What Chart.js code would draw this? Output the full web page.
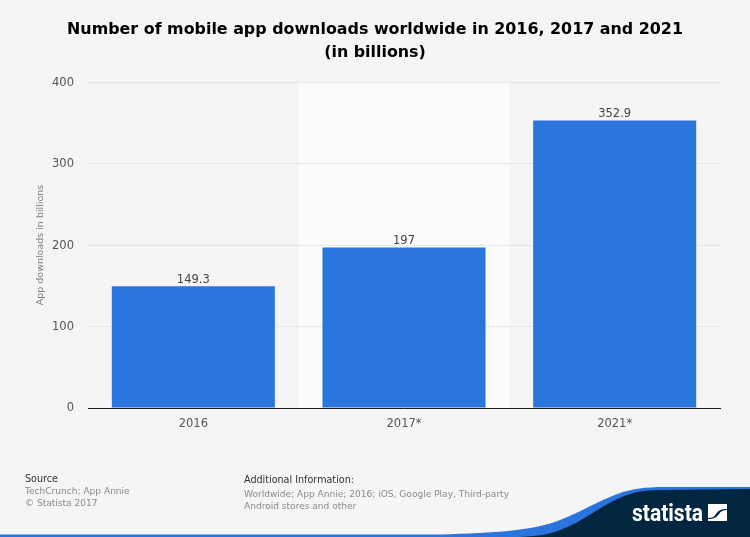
<!DOCTYPE html>
<html>
<head>
<meta charset="utf-8">
<script src="https://cdn.jsdelivr.net/npm/chart.js@4"></script>
<style>
  html, body { margin: 0; padding: 0; background: #f5f5f5; }
  body { width: 750px; height: 537px; position: relative; overflow: hidden; font-family: "DejaVu Sans", sans-serif; }
  #chart { position: absolute; left: 0; top: 0; }
  .note { position: absolute; font-size: 9.05px; line-height: 12px; color: #8a8a8a; }
  .note b { display: block; font-weight: normal; font-size: 9.6px; color: #333; }
  #brand { position: absolute; left: 0; top: 0; }
</style>
</head>
<body>
<canvas id="chart" width="750" height="537"></canvas>
<svg id="brand" width="750" height="537">
  <path d="M0 537 L0 534.5 L440 534.5 C500 533 535 530 560 520 C585 510 600 500 620 493 C632 489 645 487 665 487 L750 487 L750 537 Z" fill="#2a75dd"/>
  <path d="M520 537 C540 536 550 534 560 530 C585 521 600 505 627 495 C637 491 648 490 665 490 L750 489 L750 537 Z" fill="#02263f"/>
  <text x="632" y="521" font-family="Roboto, sans-serif" font-weight="700" font-size="24" fill="#fff" textLength="71" lengthAdjust="spacingAndGlyphs">statista</text>
  <path d="M708 504 H727 V509 C720 509 718 511 716 514 C714 517 712 518 708 518 Z M727 521 H708 V519 C714 519 717 517 719 514 C721 511 723 510 727 510 Z" fill="#fff"/>
</svg>
<div class="note" style="left:25px;top:473px"><b>Source</b>TechCrunch; App Annie<br>© Statista 2017</div>
<div class="note" style="left:244px;top:474px"><b style="margin-bottom:2px">Additional Information:</b>Worldwide; App Annie; 2016; iOS, Google Play, Third-party<br>Android stores and other</div>
<script>
const categories = ['2016', '2017*', '2021*'];
const downloads = [149.3, 197, 352.9];
const valueLabels = ['149.3', '197', '352.9'];
const yTicks = [0, 100, 200, 300, 400];
const titleLines = ['Number of mobile app downloads worldwide in 2016, 2017 and 2021', '(in billions)'];
const yAxisTitle = 'App downloads in billions';
const highlightIndex = 1;

// lighter column behind the 2017 bar
const bandPlugin = {
  id: 'band',
  beforeDraw(chart) {
    const { ctx, scales: { x }, chartArea } = chart;
    const half = (x.getPixelForTick(1) - x.getPixelForTick(0)) / 2;
    const cx = x.getPixelForTick(highlightIndex);
    ctx.save();
    ctx.fillStyle = '#fbfbfb';
    ctx.fillRect(cx - half, chartArea.top, half * 2, chartArea.bottom - chartArea.top);
    ctx.restore();
  }
};

// the plot has a right margin, so the built in title would sit off centre
const pageTitlePlugin = {
  id: 'pageTitle',
  afterDraw(chart) {
    const { ctx, width } = chart;
    ctx.save();
    ctx.font = 'bold 15.9px "DejaVu Sans"';
    ctx.fillStyle = '#000';
    ctx.textAlign = 'center';
    titleLines.forEach((line, i) => ctx.fillText(line, width / 2, 34 + i * 23));
    ctx.restore();
  }
};

const valueLabelPlugin = {
  id: 'valueLabels',
  afterDatasetsDraw(chart) {
    const { ctx } = chart;
    ctx.save();
    ctx.font = '11.5px "DejaVu Sans"';
    ctx.fillStyle = '#444';
    ctx.textAlign = 'center';
    ctx.textBaseline = 'alphabetic';
    chart.getDatasetMeta(0).data.forEach((bar, i) => {
      ctx.fillText(valueLabels[i], bar.x, bar.y - 3);
    });
    ctx.restore();
  }
};

// y labels sit a pixel lower than the library puts them
const yLabelPlugin = {
  id: 'yLabels',
  afterDraw(chart) {
    const { ctx, scales: { y } } = chart;
    ctx.save();
    ctx.font = '11.5px "DejaVu Sans"';
    ctx.fillStyle = '#555';
    ctx.textAlign = 'right';
    ctx.textBaseline = 'middle';
    yTicks.forEach(value => {
      ctx.fillText(String(value), 74, y.getPixelForValue(value) + (value === 0 ? 0 : 1));
    });
    ctx.restore();
  }
};

new Chart(document.getElementById('chart'), {
  type: 'bar',
  data: {
    labels: categories,
    datasets: [{
      data: downloads,
      backgroundColor: '#2a75dd',
      barPercentage: 0.774,
      categoryPercentage: 1
    }]
  },
  options: {
    responsive: false,
    animation: false,
    layout: { padding: { top: 82, right: 30, bottom: 97, left: 0 } },
    plugins: {
      legend: { display: false },
      tooltip: { enabled: false },
      title: { display: false }
    },
    scales: {
      x: {
        afterFit(scale) { scale.height = 32; },
        grid: { display: false, drawTicks: false },
        border: { color: '#1a1a1a', width: 1 },
        ticks: { color: '#555', font: { family: 'DejaVu Sans', size: 11.5 }, padding: 9, maxRotation: 0 }
      },
      y: {
        min: 0,
        max: 400,
        afterFit(scale) { scale.width = 88; },
        afterBuildTicks(scale) { scale.ticks = yTicks.map(value => ({ value })); },
        title: {
          display: true,
          text: yAxisTitle,
          color: '#808080',
          font: { family: 'DejaVu Sans', size: 9.5 },
          padding: { top: 35, bottom: 0 }
        },
        grid: { color: '#d4d4d4', lineWidth: 1, drawTicks: false },
        border: { display: false, dash: [1, 1] },
        ticks: { display: false }
      }
    }
  },
  plugins: [bandPlugin, valueLabelPlugin, yLabelPlugin, pageTitlePlugin]
});
</script>
</body>
</html>
